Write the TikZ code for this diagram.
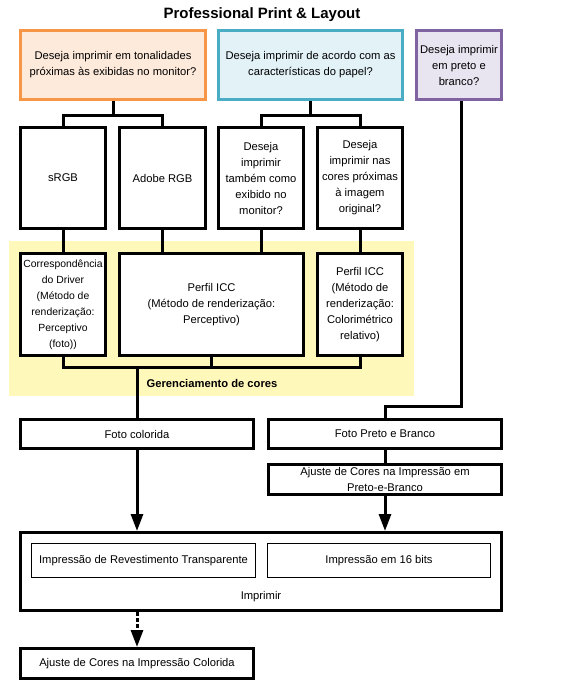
\documentclass[tikz,border=0pt]{standalone}
\usepackage{fontspec}
\setmainfont{Liberation Sans}
\usetikzlibrary{arrows.meta}
\definecolor{orgB}{HTML}{F79646}
\definecolor{orgF}{HTML}{FDEADA}
\definecolor{bluB}{HTML}{4BACC6}
\definecolor{bluF}{HTML}{E2F2F7}
\definecolor{purB}{HTML}{8064A2}
\definecolor{purF}{HTML}{E8E4F0}
\definecolor{yelF}{HTML}{FFF8BB}
\tikzset{
  box/.style={draw=black, line width=3pt, fill=white, inner sep=0pt, align=center,
    font=\fontsize{11.2}{16}\selectfont},
  thinbox/.style={draw=black, line width=1pt, fill=white, inner sep=0pt, align=center,
    font=\fontsize{11.2}{16}\selectfont},
  lbl/.style={inner sep=0pt, align=center, font=\fontsize{11.2}{16}\selectfont},
  conn/.style={line width=3pt},
  arr/.style={line width=3pt, -{Triangle[length=17pt,width=12pt]}},
}
\begin{document}
\begin{tikzpicture}[x=1pt,y=-1pt]
\useasboundingbox (0,0) rectangle (560,688);
\fill[white] (0,0) rectangle (560,688);
% title
\node[lbl, font=\fontsize{15}{18}\bfseries\selectfont] (title) at (262,15) {Professional Print \& Layout};
% yellow area
\fill[yelF] (9,241) rectangle (414,396);
\node[lbl, font=\fontsize{11.2}{16}\bfseries\selectfont] (gc) at (212,383) {Gerenciamento de cores};
% top questions
\node[box, draw=orgB, fill=orgF, minimum width=185pt, minimum height=69pt] (q1) at (113,65)
  {Deseja imprimir em tonalidades\\próximas às exibidas no monitor?};
\node[box, draw=bluB, fill=bluF, minimum width=184pt, minimum height=69pt] (q2) at (310.5,65)
  {Deseja imprimir de acordo com as\\características do papel?};
\node[box, draw=purB, fill=purF, minimum width=85pt, minimum height=69pt] (q3) at (459,65)
  {Deseja imprimir\\em preto e\\branco?};
% second row
\node[box, minimum width=85pt, minimum height=101pt] (srgb) at (63,178) {sRGB};
\node[box, minimum width=86pt, minimum height=101pt] (adobe) at (162.5,178) {Adobe RGB};
\node[box, minimum width=85pt, minimum height=101pt] (qa) at (261,178)
  {Deseja\\imprimir\\também como\\exibido no\\monitor?};
\node[box, minimum width=85pt, minimum height=101pt] (qb) at (360,178)
  {Deseja\\imprimir nas\\cores próximas\\à imagem\\original?};
% color management row
\node[box, font=\fontsize{10.4}{16}\selectfont, minimum width=85pt, minimum height=102pt] (drv) at (63,304.5)
  {Correspondência\\do Driver\\(Método de\\renderização:\\Perceptivo\\(foto))};
\node[box, minimum width=184pt, minimum height=102pt] (icc1) at (211.5,304.5)
  {Perfil ICC\\(Método de renderização:\\Perceptivo)};
\node[box, minimum width=85pt, minimum height=102pt] (icc2) at (360,304.5)
  {Perfil ICC\\(Método de\\renderização:\\Colorimétrico\\relativo)};
% photo row
\node[box, minimum width=233pt, minimum height=29pt] (fcol) at (137,434) {Foto colorida};
\node[box, minimum width=233pt, minimum height=29pt] (fpb) at (385,434) {Foto Preto e Branco};
\node[box, minimum width=233pt, minimum height=30pt] (ajpb) at (385,479.5)
  {Ajuste de Cores na Impressão em\\Preto-e-Branco};
% print
\node[box, minimum width=481pt, minimum height=78pt] (impr) at (261,571.5) {};
\node[thinbox, minimum width=224pt, minimum height=34pt] (rev) at (143.5,560.5)
  {Impressão de Revestimento Transparente};
\node[thinbox, minimum width=223pt, minimum height=34pt] (b16) at (379,560.5)
  {Impressão em 16 bits};
\node[lbl] (imprl) at (261,597) {Imprimir};
\node[box, minimum width=233pt, minimum height=30pt] (ajcol) at (137,663.5)
  {Ajuste de Cores na Impressão Colorida};
% connectors
\coordinate (j1) at (113,115);
\coordinate (j2) at (310.5,115);
\coordinate (j3) at (211.5,367);
\coordinate (j4) at (461,406);
\draw[conn] (q1.south) -- (j1);
\draw[conn] (srgb.north) |- (j1) -| (adobe.north);
\draw[conn] (q2.south) -- (j2);
\draw[conn] (qa.north) |- (j2) -| (qb.north);
\draw[conn] (srgb.south) -- (drv.north);
\draw[conn] (adobe.south) -- (adobe.south |- icc1.north);
\draw[conn] (qa.south) -- (qa.south |- icc1.north);
\draw[conn] (qb.south) -- (icc2.north);
\draw[conn] (drv.south) |- (j3) -| (icc2.south);
\draw[conn] (icc1.south) -- (j3);
\draw[conn] (fcol.north |- j3) -- (fcol.north);
\draw[conn] (j4 |- q3.south) -- (j4) -| (fpb.north);
\draw[conn] (fpb.south) -- (ajpb.north);
\draw[arr] (fcol.south) -- (fcol.south |- impr.north);
\draw[arr] (ajpb.south) -- (ajpb.south |- impr.north);
\draw[arr, dash pattern=on 4pt off 2pt] (ajcol.north |- impr.south) -- (ajcol.north);
\end{tikzpicture}
\end{document}
